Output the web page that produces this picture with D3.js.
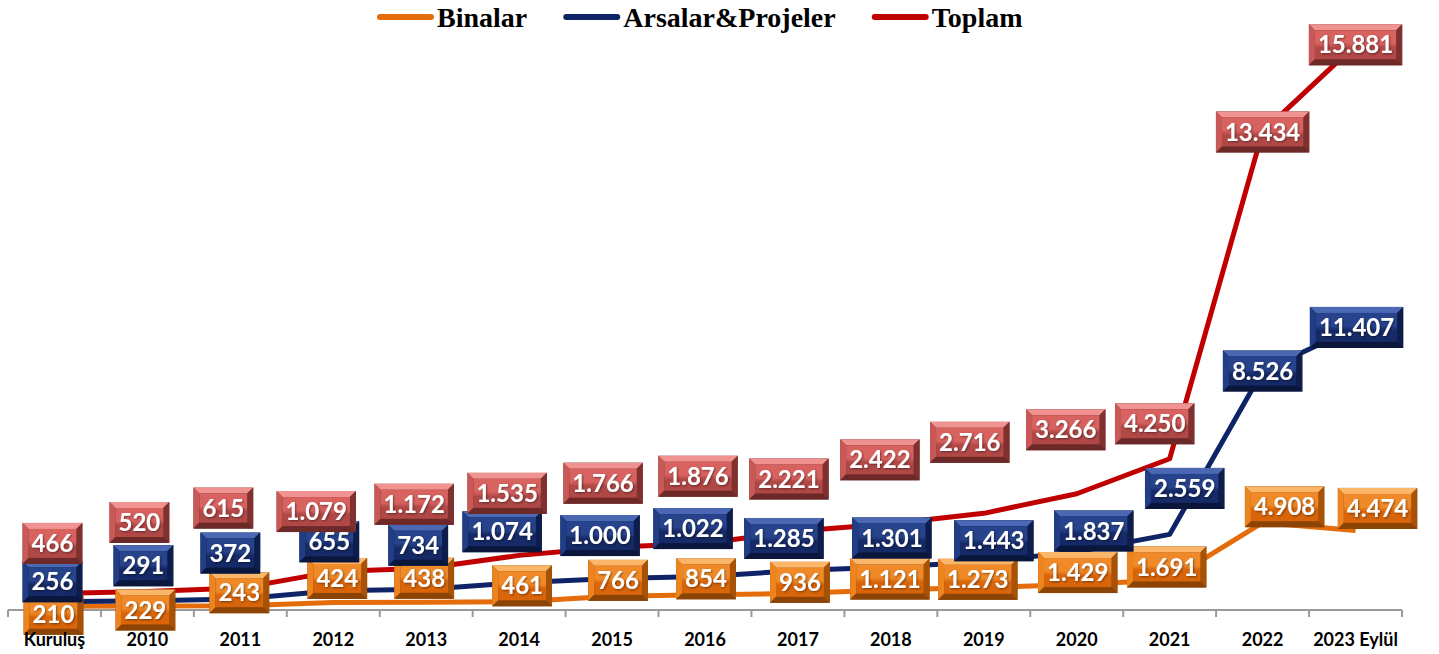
<!DOCTYPE html>
<html>
<head>
<meta charset="utf-8">
<script src="https://cdn.jsdelivr.net/npm/d3@7"></script>
<style>
  html, body { margin: 0; padding: 0; background: #fff; }
  svg { display: block; }
</style>
</head>
<body>
<svg id="chart" width="1439" height="654"></svg>
<script>
const categories = ['Kuruluş', '2010', '2011', '2012', '2013', '2014', '2015', '2016',
  '2017', '2018', '2019', '2020', '2021', '2022', '2023 Eylül'];
const binalar = [210, 229, 243, 424, 438, 461, 766, 854, 936, 1121, 1273, 1429, 1691, 4908, 4474];
const arsalar = [256, 291, 372, 655, 734, 1074, 1000, 1022, 1285, 1301, 1443, 1837, 2559, 8526, 11407];
const toplam = [466, 520, 615, 1079, 1172, 1535, 1766, 1876, 2221, 2422, 2716, 3266, 4250, 13434, 15881];
const seriesNames = ['Binalar', 'Arsalar&Projeler', 'Toplam'];

// label nudges (px) from the line point, as placed by hand in the original
const nudgeX = [
  [-1, -2, -1, 4, -2, 3, 6, 1, 2, -1, -6, 1, -3, 22, 22],
  [-2, -4, -10, -4, -8, -17, -12, -12, -14, 1, 10, 17, 15, 0, 1],
  [-2, -8, -17, -17, -12, -12, -9, -7, -9, -11, -14, -11, -15, 0, 0],
];
const nudgeY = [
  [8, 4, -13, -24, -24, -16, -16, -16, -11, -11, -8, -12, -13, -16, -22],
  [-20, -35, -46, -49, -44, -51, -43, -48, -32, -29, -21, -21, -46, 0, 0],
  [-50, -69, -80, -60, -64, -62, -64, -67, -52, -64, -71, -64, -35, 0, 0],
];

const lineColors = ['#e46c0a', '#0f2466', '#c00000'];
const boxColors = [
  { light: '#fbb66a', top: '#f08a28', bottom: '#d8650a', side: '#ee8420', dark: '#a85208', darker: '#8c4406' },
  { light: '#4a68b4', top: '#27438c', bottom: '#152a66', side: '#213d86', dark: '#0e1d4c', darker: '#0a163c' },
  { light: '#f0928f', top: '#d86260', bottom: '#b04846', side: '#c95956', dark: '#80312f', darker: '#6c2928' },
];

const svg = d3.select('#chart');
const fmt = (v) => d3.format(',')(v).replace(/,/g, '.');

const x = d3.scaleBand().domain(categories).range([8, 1402]);
const y = d3.scaleLinear().domain([0, 34000]).range([610, 5]);

const rows = categories.map((c, i) => ({
  cat: c, b: binalar[i], a: arsalar[i], t: toplam[i],
}));
const stacked = d3.stack().keys(['b', 'a', 't'])(rows);
const labelValues = [binalar, arsalar, toplam];

// gradients
const defs = svg.append('defs');
boxColors.forEach((c, i) => {
  const g = defs.append('linearGradient')
    .attr('id', `grad${i}`)
    .attr('x1', 0).attr('y1', 0).attr('x2', 0).attr('y2', 1);
  g.append('stop').attr('offset', '0%').attr('stop-color', c.top);
  g.append('stop').attr('offset', '45%').attr('stop-color', c.top);
  g.append('stop').attr('offset', '60%').attr('stop-color', c.bottom);
  g.append('stop').attr('offset', '100%').attr('stop-color', c.bottom);
});
const shadow = defs.append('filter').attr('id', 'tshadow')
  .attr('x', '-10%').attr('y', '-10%').attr('width', '130%').attr('height', '140%');
shadow.append('feDropShadow')
  .attr('dx', 1).attr('dy', 1).attr('stdDeviation', 0.8)
  .attr('flood-color', '#000').attr('flood-opacity', 0.45);

// axis line and boundary ticks
const axisG = svg.append('g');
axisG.append('line')
  .attr('x1', x.range()[0]).attr('x2', x.range()[1])
  .attr('y1', 610).attr('y2', 610)
  .attr('stroke', '#9a9a9a')
  .attr('stroke-width', 2);
const bounds = categories.map((c) => x(c)).concat([x.range()[1]]);
axisG.selectAll('.bound')
  .data(bounds)
  .enter()
  .append('line')
  .attr('class', 'bound')
  .attr('x1', (d) => d)
  .attr('x2', (d) => d)
  .attr('y1', 610)
  .attr('y2', 617)
  .attr('stroke', '#9a9a9a')
  .attr('stroke-width', 2);

// lines
const cx = (c) => x(c) + x.bandwidth() / 2;
const line = d3.line()
  .x((d) => cx(d.data.cat))
  .y((d) => y(d[1]));

stacked.forEach((s, i) => {
  svg.append('path')
    .attr('d', line(s))
    .attr('fill', 'none')
    .attr('stroke', lineColors[i])
    .attr('stroke-width', 5)
    .attr('stroke-linejoin', 'round');
});

// data labels
const bevel = 6;
const boxH = 41;
stacked.forEach((s, si) => {
  const c = boxColors[si];
  s.forEach((d, i) => {
    const px = cx(d.data.cat) + nudgeX[si][i];
    const py = y(d[1]) + nudgeY[si][i];
    const g = svg.append('g');
    const txt = g.append('text')
      .attr('font-family', 'Lato, "Open Sans", sans-serif')
      .attr('font-weight', 700)
      .attr('font-size', 24)
      .attr('fill', '#fff')
      .attr('text-anchor', 'middle')
      .attr('dy', '0.36em')
      .attr('filter', 'url(#tshadow)')
      .text(fmt(labelValues[si][i]));
    const w = txt.node().getComputedTextLength() + 18;
    const h = boxH;
    g.attr('transform', `translate(${px - w / 2},${py - h / 2})`);
    const b = bevel;
    g.insert('rect', 'text')
      .attr('width', w).attr('height', h)
      .attr('fill', c.darker);
    g.insert('polygon', 'text')
      .attr('points', `0,0 ${w},0 ${w - b},${b} ${b},${b}`)
      .attr('fill', c.light);
    g.insert('polygon', 'text')
      .attr('points', `0,0 ${b},${b} ${b},${h - b} 0,${h}`)
      .attr('fill', c.side);
    g.insert('polygon', 'text')
      .attr('points', `${w},0 ${w},${h} ${w - b},${h - b} ${w - b},${b}`)
      .attr('fill', c.dark);
    g.insert('polygon', 'text')
      .attr('points', `0,${h} ${w},${h} ${w - b},${h - b} ${b},${h - b}`)
      .attr('fill', c.darker);
    g.insert('rect', 'text')
      .attr('x', b).attr('y', b)
      .attr('width', w - 2 * b).attr('height', h - 2 * b)
      .attr('fill', `url(#grad${si})`);
    txt.attr('x', w / 2).attr('y', h / 2);
  });
});

// category labels drawn over the boxes, as in the original
const axis = svg.append('g')
  .attr('transform', 'translate(0,610)')
  .call(d3.axisBottom(x).tickSize(0).tickPadding(23).tickSizeOuter(0));
axis.select('.domain').remove();
axis.selectAll('text')
  .attr('font-family', 'Lato, "Open Sans", sans-serif')
  .attr('font-weight', 700)
  .attr('font-size', 18)
  .attr('fill', '#000');

// legend
const legend = svg.append('g');
let lx = 378;
seriesNames.forEach((name, i) => {
  legend.append('line')
    .attr('x1', lx + 2).attr('x2', lx + 53)
    .attr('y1', 17).attr('y2', 17)
    .attr('stroke', lineColors[i])
    .attr('stroke-width', 6)
    .attr('stroke-linecap', 'round');
  const t = legend.append('text')
    .attr('x', lx + 59)
    .attr('y', 27)
    .attr('font-family', '"Liberation Serif", "Times New Roman", serif')
    .attr('font-weight', 700)
    .attr('font-size', 28)
    .attr('fill', '#000')
    .text(name);
  lx += 59 + t.node().getComputedTextLength() + 37;
});
</script>
</body>
</html>
